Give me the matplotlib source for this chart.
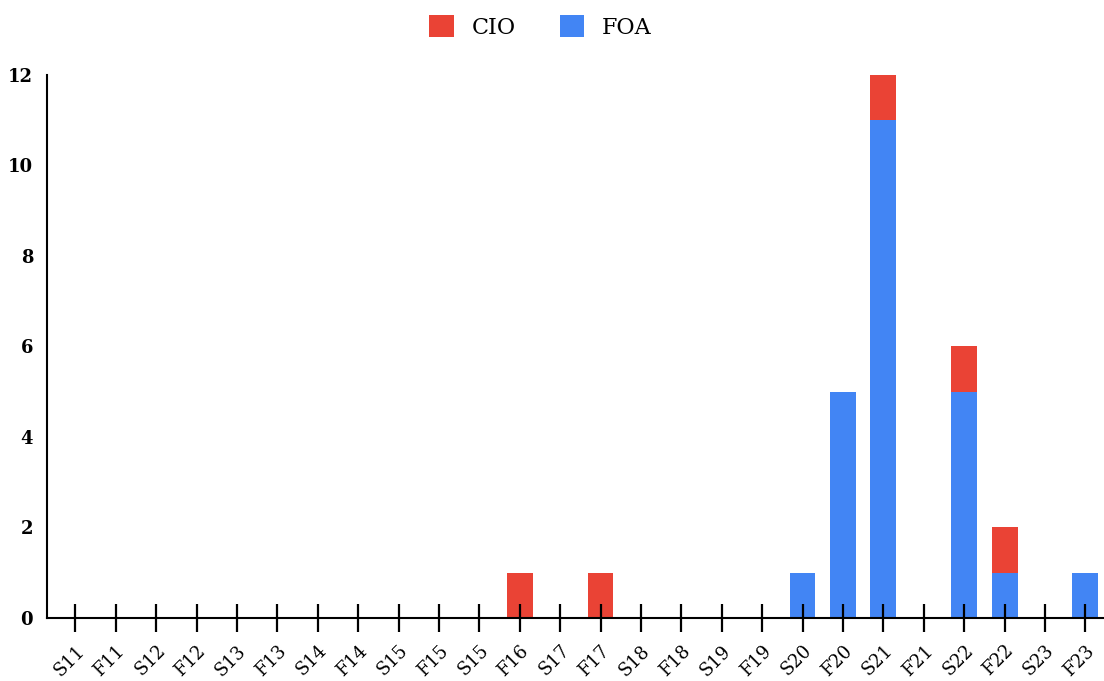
import matplotlib
matplotlib.use("Agg")
import matplotlib.pyplot as plt
import numpy as np

# данные
terms = ["S11", "F11", "S12", "F12", "S13", "F13", "S14", "F14", "S15", "F15",
         "S15", "F16", "S17", "F17", "S18", "F18", "S19", "F19", "S20", "F20",
         "S21", "F21", "S22", "F22", "S23", "F23"]
foa = [0, 0, 0, 0, 0, 0, 0, 0, 0, 0,
       0, 0, 0, 0, 0, 0, 0, 0, 1, 5,
       11, 0, 5, 1, 0, 1]
cio = [0, 0, 0, 0, 0, 0, 0, 0, 0, 0,
       0, 1, 0, 1, 0, 0, 0, 0, 0, 0,
       1, 0, 1, 1, 0, 0]
y_ticks = [0, 2, 4, 6, 8, 10, 12]

red = "#EA4335"
blue = "#4285F4"

plt.rcParams['font.family'] = ['DejaVu Serif']

fig = plt.figure(figsize=(11.04, 6.81), dpi=100)
ax = fig.add_axes([0.0426, 0.0925, 0.957, 0.7975])
ax.set_axisbelow(False)

x = np.arange(len(terms))
ax.bar(x, foa, width=0.64, color=blue, label="FOA", zorder=1)
ax.bar(x, cio, width=0.64, bottom=foa, color=red, label="CIO", zorder=1)

ax.set_xlim(-0.7, 25.45)
ax.set_ylim(0, 12)
ax.set_yticks(y_ticks)
ax.set_yticklabels([str(v) for v in y_ticks], fontsize=13, fontweight='bold')
ax.tick_params(axis='y', length=0, pad=10)

ax.set_xticks(x)
ax.set_xticklabels(terms, rotation=45, ha='right', rotation_mode='anchor', fontsize=13)
ax.tick_params(axis='x', direction='inout', length=20, width=1.6, pad=7)

for s in ['top', 'right']:
    ax.spines[s].set_visible(False)
ax.spines['left'].set_linewidth(1.5)
ax.spines['bottom'].set_linewidth(1.5)

handles, labels = ax.get_legend_handles_labels()
ax.legend(handles[::-1], labels[::-1], loc='lower center', bbox_to_anchor=(0.467, 1.03),
          ncol=2, frameon=False, fontsize=16, handlelength=1.1, handleheight=1.1,
          columnspacing=2.0, handletextpad=0.8)

fig.savefig("out.png", dpi=100)
